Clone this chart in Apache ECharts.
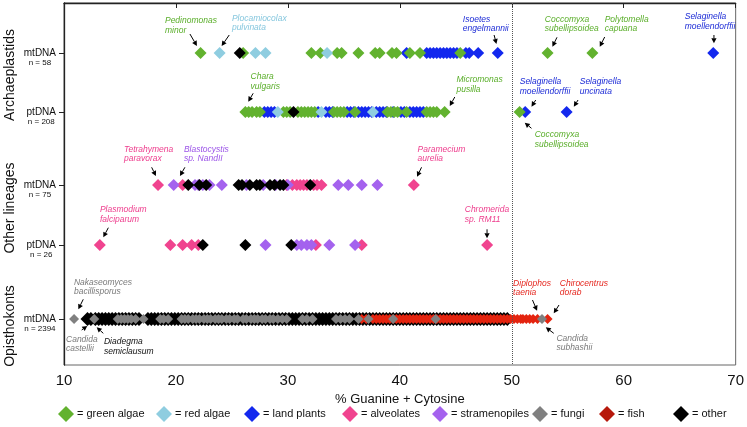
<!DOCTYPE html>
<html><head><meta charset="utf-8">
<script src="https://cdn.jsdelivr.net/npm/echarts@6/dist/echarts.min.js"></script>
<style>html,body{margin:0;padding:0;background:#fff}#c{width:747px;height:427px}</style>
</head><body><div id="c"></div>
<script>
// ---- rows (y axis) ----
const rowLabels = ['mtDNA','ptDNA','mtDNA','ptDNA','mtDNA'];
const rowCounts = ['n = 58','n = 208','n = 75','n = 26','n = 2394'];
const rowPos = [50,109,182,242,316];
const groupNames = ['Archaeplastids','Other lineages','Opisthokonts'];
const xTicks = [10,20,30,40,50,60,70];
const categories = ['green algae','red algae','land plants','alveolates','stramenopiles','fungi','fish','other'];

// ---- Archaeplastids mtDNA (% GC) ----
const archMtGreen = [22.2,26.0,32.1,32.9,34.4,34.8,36.3,37.8,38.2,39.3,39.7,40.9,41.8,45.4,53.2,57.2];
const archMtRed = [23.9,27.1,28.0,33.5];
const archMtLand = [40.6,42.4,42.7,43.0,43.3,43.6,43.9,44.2,44.5,44.8,45.1,45.9,46.2,47.0,48.75,68.0];
const archMtOther = [25.7];
// ---- Archaeplastids ptDNA ----
const archPtGreen = [26.2,26.5,26.8,27.2,27.5,29.6,29.9,30.2,30.9,31.2,31.5,31.8,32.1,32.4,34.1,34.4,34.7,35.0,
  36.0,38.9,39.2,39.5,39.8,40.6,42.4,42.7,43.0,43.3,44.0,50.7];
const archPtRed = [29.1,33.0,37.6];
const archPtLand = [27.9,28.2,28.5,28.8,32.7,33.4,33.7,34.0,35.3,35.6,35.9,36.3,36.6,36.9,37.2,37.5,37.9,38.2,
  38.5,38.8,39.4,40.1,40.4,40.9,41.2,41.5,41.8,42.1,51.2,54.9];
const archPtOther = [30.5];
// ---- Other lineages mtDNA ----
const othMtAlv = [18.4,20.6,29.9,30.4,30.8,31.1,31.4,31.7,32.3,32.6,33.0,41.25];
const othMtStr = [19.8,21.7,22.0,22.4,23.0,24.1,26.3,27.8,28.9,30.0,34.5,35.4,36.6,38.0];
const othMtOther = [21.1,22.1,22.7,25.6,25.9,26.6,27.2,27.5,28.4,28.8,29.3,29.6,32.0];
// ---- Other lineages ptDNA ----
const othPtAlv = [13.2,19.5,20.6,21.4,22.0,32.5,36.6,47.8];
const othPtStr = [28.0,30.8,31.2,31.7,32.1,33.7,36.0];
const othPtOther = [22.4,26.2,30.3];
// ---- Opisthokonts mtDNA ----
const opiMtOther = [12.1,12.4,12.8,13.1,13.4,13.7,14.0,14.3,14.6,14.9,15.2,15.5,15.8,16.1,16.4,16.7,
  17.5,17.8,18.1,18.4,18.7,19.0,19.3,19.6,19.9,20.2,20.5,20.8,21.1,21.4,21.7,22.0,22.3,22.6,22.9,23.2,23.5,
  23.8,24.1,24.4,24.7,25.0,25.3,25.6,25.9,26.2,26.5,26.8,27.1,27.4,27.7,28.0,28.3,28.6,28.9,29.2,29.5,29.8,
  30.1,30.4,30.7,31.0,31.3,31.6,31.9,32.2,32.5,32.8,33.1,33.4,33.7,34.0,34.3,34.6,34.9,35.2,35.5,35.8,36.1,
  36.4,36.7,37.0,37.3,37.6,37.9,38.2,38.5,38.8,39.1,39.4,39.7,40.0,40.3,40.6,40.9,41.2,41.5,41.8,42.1,42.4,
  42.7,43.0,43.3,43.6,43.9,44.2,44.5,44.8,45.1,45.4,45.7,46.0,46.3,46.6,46.9,47.2,47.5,47.8,48.1,48.4,48.7,
  49.0,49.3,49.6];
const opiMtFish = [36.6,37.0,37.6,37.9,38.2,38.5,38.8,39.1,39.4,39.7,40.0,40.3,40.6,40.9,41.2,41.5,41.8,42.1,
  42.4,42.7,43.0,43.3,43.6,43.9,44.2,44.5,44.8,45.1,45.4,45.7,46.0,46.3,46.6,46.9,47.2,47.5,47.8,48.1,48.4,
  48.7,49.0,49.3,49.6,49.9,50.2,50.5,50.8,51.0,51.3,51.6,51.9,52.3,53.2];
const opiMtFungi = [10.9,12.7,14.8,15.1,15.4,15.7,16.0,16.4,17.1,18.6,18.9,19.3,20.5,20.8,21.1,21.5,21.8,22.1,
  22.5,22.8,23.1,23.5,23.8,24.1,24.5,24.8,25.2,25.5,26.0,26.3,26.7,27.0,27.3,27.7,28.0,28.4,28.7,29.1,29.5,
  29.9,31.3,31.7,32.2,34.3,34.7,35.1,35.5,36.3,37.2,39.4,43.2,52.7];

// ---- colours ----
const C = {green:'#62b22f', red:'#8fcde0', land:'#1328ee', alv:'#f0448f', str:'#a462ee', fungi:'#808080', fish:'#e4240f', other:'#000000'};
const T = {green:'#5aae2a', red:'#86c7de', land:'#1c2bd6', alv:'#ee3d8d', str:'#9c55e8', fungi:'#7a7a7a', fish:'#e5271f', other:'#111111'};
const legendColor = {'green algae':C.green,'red algae':C.red,'land plants':C.land,'alveolates':C.alv,
  'stramenopiles':C.str,'fungi':C.fungi,'fish':'#b7190c','other':C.other};
// legend layout (left edge of each icon, px)
const legendLeft = [58, 156, 244, 342, 432, 532, 599, 673];

// ---- annotations (data coordinates) ----
const annotations = [
 {t:'Pedinomonas\nminor', c:T.green, x:19.02, y:17.7, a:[21.25,31,21.875,43]},
 {t:'Plocamiocolax\npulvinata', c:T.red, x:25.0, y:15.3, a:[24.76,32,24.08,43]},
 {t:'Chara\nvulgaris', c:T.green, x:26.67, y:73.7, a:[26.9,90.3,26.46,98.7]},
 {t:'Micromonas\npusilla', c:T.green, x:45.06, y:77, a:[44.91,94,44.46,103]},
 {t:'Isoetes\nengelmannii', c:T.land, x:45.63, y:16.3, a:[48.42,32,48.63,41]},
 {t:'Coccomyxa\nsubellipsoidea', c:T.green, x:52.95, y:16.3, a:[54.04,34.3,53.63,43.7]},
 {t:'Polytomella\ncapuana', c:T.green, x:58.30, y:16.3, a:[58.30,34,57.86,43.7]},
 {t:'Selaginella\nmoellendorffii', c:T.land, x:65.45, y:13.7, a:[68.06,32,68.06,40.3]},
 {t:'Selaginella\nmoellendorffii', c:T.land, x:50.71, y:78.7, a:[52.14,97,51.76,103.7]},
 {t:'Selaginella\nuncinata', c:T.land, x:56.07, y:78.7, a:[55.92,97,55.54,103.7]},
 {t:'Coccomyxa\nsubellipsoidea', c:T.green, x:52.05, y:132, a:[51.76,125.3,51.16,119.7]},
 {t:'Tetrahymena\nparavorax', c:T.alv, x:15.36, y:146.3, a:[17.83,164.3,18.21,173]},
 {t:'Blastocystis\nsp. NandII', c:T.str, x:20.71, y:146.3, a:[20.80,164.3,20.36,173]},
 {t:'Paramecium\naurelia', c:T.alv, x:41.58, y:146.3, a:[41.94,164.3,41.54,173.7]},
 {t:'Plasmodium\nfalciparum', c:T.alv, x:13.21, y:207, a:[13.96,224.7,13.51,234.3]},
 {t:'Chromerida\nsp. RM11', c:T.alv, x:45.80, y:207, a:[47.79,226.3,47.79,235.3]},
 {t:'Nakaseomyces\nbacillisporus', c:T.fungi, x:10.89, y:279.3, a:[11.72,296.3,11.28,306.3]},
 {t:'Candida\ncastellii', c:T.fungi, x:10.18, y:336.3, a:[11.58,327,12.08,323]},
 {t:'Diadegma\nsemiclausum', c:T.other, x:13.57, y:338.7, a:[13.51,330.3,12.92,324.3]},
 {t:'Diplophos\ntaenia', c:T.fish, x:50.12, y:280.3, a:[51.85,297,52.26,307.7]},
 {t:'Chirocentrus\ndorab', c:T.fish, x:54.29, y:280.3, a:[54.22,302,53.75,310.3]},
 {t:'Candida\nsubhashii', c:T.fungi, x:53.99, y:335.3, a:[53.75,330.3,53.04,324.3]}
];

function pts(vals,row){ return vals.map(v=>[v,rowPos[row]]); }
const FONT = '"Liberation Sans", Arial, Helvetica, sans-serif';

function sc(name,color,data,size,z){
  return {type:'scatter', name, data, symbol:'diamond', symbolSize:size, z:z,
    itemStyle:{color, opacity:1}, emphasis:{disabled:true}, animation:false, silent:true};
}

const series = [
  sc('land plants', C.land, pts(archMtLand,0).concat(pts(archPtLand,1)), 12, 2),
  sc('green algae', C.green, pts(archMtGreen,0).concat(pts(archPtGreen,1)), 12, 3),
  sc('red algae', C.red, pts(archMtRed,0).concat(pts(archPtRed,1)), 12, 4),
  sc('alveolates', C.alv, pts(othMtAlv,2).concat(pts(othPtAlv,3)), 12, 2),
  sc('stramenopiles', C.str, pts(othMtStr,2).concat(pts(othPtStr,3)), 12, 3),
  sc('other', C.other, pts(opiMtOther,4), 14, 2),
  sc('fish', C.fish, pts(opiMtFish,4), 10, 3),
  sc('fungi', C.fungi, pts(opiMtFungi,4), 10, 4),
  sc('other', C.other, pts(archMtOther,0).concat(pts(archPtOther,1),pts(othMtOther,2),pts(othPtOther,3)), 12, 5)
];
series[0].markLine = {silent:true, symbol:'none', label:{show:false},
  lineStyle:{type:'dotted', color:'#555', width:1}, data:[{xAxis:50}], animation:false};

const legends = categories.map((name,i)=>({
  top:406, left:legendLeft[i], itemWidth:16, itemHeight:16, icon:'diamond', selectedMode:false,
  formatter:'= {name}', padding:0,
  textStyle:{fontSize:11, color:'#111', fontFamily:FONT, padding:[0,0,0,-2]},
  data:[{name, itemStyle:{color:legendColor[name]}}]
}));

const chart = echarts.init(document.getElementById('c'), null, {renderer:'canvas'});
chart.setOption({
  animation:false,
  backgroundColor:'#fff',
  textStyle:{fontFamily:FONT},
  grid:{left:64, right:10, top:3, bottom:62, show:true, borderColor:'#666', borderWidth:1},
  xAxis:{type:'value', min:10, max:70, interval:10,
    name:'% Guanine + Cytosine', nameLocation:'middle', nameGap:27,
    nameTextStyle:{fontSize:13, color:'#111', fontFamily:FONT},
    axisLine:{show:true, lineStyle:{color:'#222', width:1.3}},
    axisTick:{show:true, length:5, lineStyle:{color:'#222'}},
    axisLabel:{fontSize:15, color:'#111', margin:8, fontFamily:FONT},
    splitLine:{show:false}},
  yAxis:{type:'value', inverse:true, min:0, max:362,
    axisLine:{show:true, lineStyle:{color:'#222', width:1.3}},
    axisTick:{show:true, length:5, customValues:rowPos, lineStyle:{color:'#222'}},
    axisLabel:{customValues:rowPos, margin:8, padding:[8,0,0,0],
      formatter:function(v){ const i=rowPos.indexOf(v); return i<0?'':'{a|'+rowLabels[i]+'}\n{b|'+rowCounts[i]+'}'; },
      rich:{a:{fontSize:10, lineHeight:12, color:'#111', align:'center', fontFamily:FONT},
            b:{fontSize:8, lineHeight:8, color:'#111', align:'center', fontFamily:FONT}}},
    splitLine:{show:false}},
  legend:legends,
  series
});

// group titles + annotations
const graphics = [];
const titleY = [75, 208, 326];
groupNames.forEach((g,i)=>{
  graphics.push({type:'text', x:10, y:titleY[i], rotation:Math.PI/2, silent:true,
    style:{text:g, fill:'#111', font:'14px '+FONT, align:'center', verticalAlign:'middle'}});
});
annotations.forEach(an=>{
  const p = chart.convertToPixel({gridIndex:0},[an.x, an.y]);
  graphics.push({type:'text', x:p[0], y:p[1]-4.75, silent:true, z:20,
    style:{text:an.t, fill:an.c, font:'italic 8.5px '+FONT, lineHeight:9.5, align:'left', verticalAlign:'top'}});
  const a = chart.convertToPixel({gridIndex:0},[an.a[0],an.a[1]]);
  const b = chart.convertToPixel({gridIndex:0},[an.a[2],an.a[3]]);
  const dx=b[0]-a[0], dy=b[1]-a[1], L=Math.hypot(dx,dy), ux=dx/L, uy=dy/L;
  const hl=5, hw=2.6;
  const bx=b[0]-ux*hl, by=b[1]-uy*hl;
  graphics.push({type:'line', silent:true, z:20, shape:{x1:a[0],y1:a[1],x2:bx,y2:by},
    style:{stroke:'#000', lineWidth:1}});
  graphics.push({type:'polygon', silent:true, z:20,
    shape:{points:[[b[0],b[1]],[bx-uy*hw,by+ux*hw],[bx+uy*hw,by-ux*hw]]}, style:{fill:'#000'}});
});
chart.setOption({graphic:graphics});
</script>
</body></html>
